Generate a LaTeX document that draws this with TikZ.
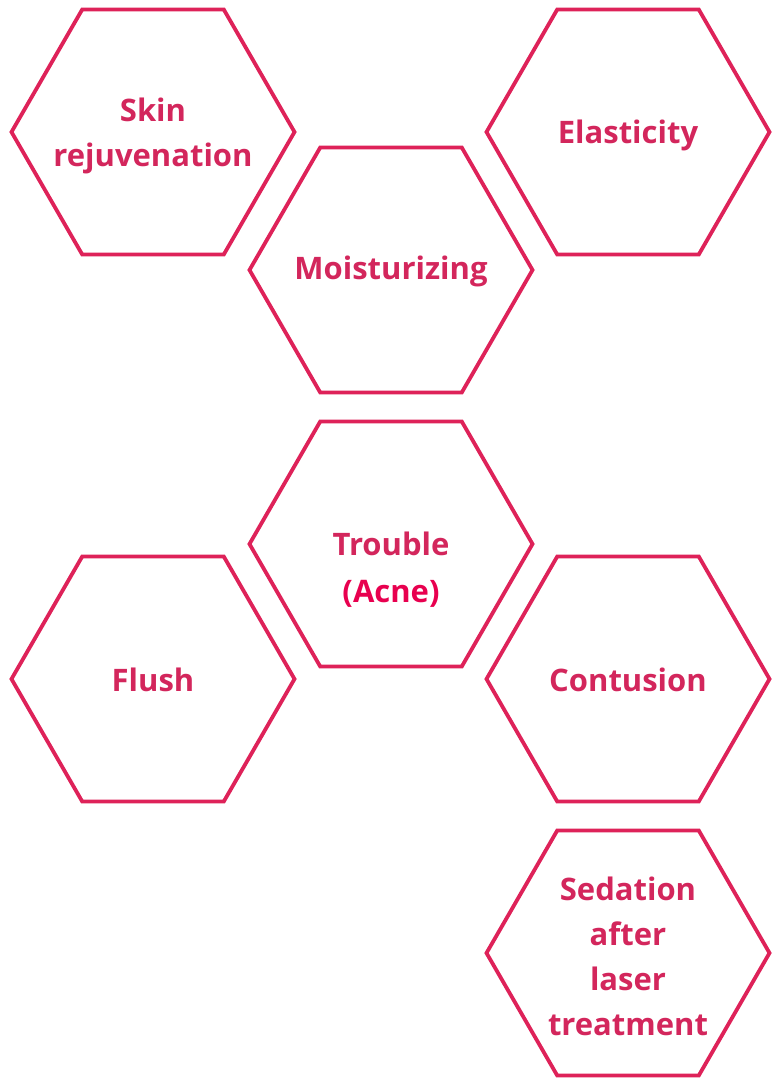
\documentclass[tikz,border=0pt]{standalone}
\usepackage{fontspec}
\setmainfont{Open Sans}
\usetikzlibrary{shapes.geometric}
\definecolor{hexline}{HTML}{DE2259}
\definecolor{hextext}{HTML}{D3265C}
\definecolor{acne}{HTML}{E8004F}
\begin{document}
\begin{tikzpicture}[x=1pt,y=-1pt,
  hexa/.style={regular polygon, regular polygon sides=6, shape border rotate=0,
    draw=hexline, line width=3.8pt, minimum size=283pt, inner sep=0pt},
  lbl/.style={font=\fontsize{31}{45}\selectfont\bfseries, text=hextext, align=center, inner sep=0pt}]
\useasboundingbox (0,0) rectangle (771,1081);
\node[hexa] (h1) at (153,132) {};
\node[hexa] (h2) at (628,132) {};
\node[hexa] (h3) at (391,270) {};
\node[hexa] (h4) at (391,544) {};
\node[hexa] (h5) at (153,679) {};
\node[hexa] (h6) at (628,679) {};
\node[hexa] (h7) at (628,953) {};
\node[lbl] (t1) at (153,136) {Skin\\rejuvenation};
\node[lbl] (t2) at (628,135) {Elasticity};
\node[lbl] (t3) at (391,271) {Moisturizing};
\node[lbl, anchor=base] (t4) at (391,555) {Trouble};
\node[lbl, anchor=base, text=acne] (t4b) at (391,602) {(Acne)};
\node[lbl] (t5) at (153,680) {Flush};
\node[lbl] (t6) at (628,680) {Contusion};
\node[lbl] (t7) at (628,956) {Sedation\\after\\laser\\treatment};
\end{tikzpicture}
\end{document}
